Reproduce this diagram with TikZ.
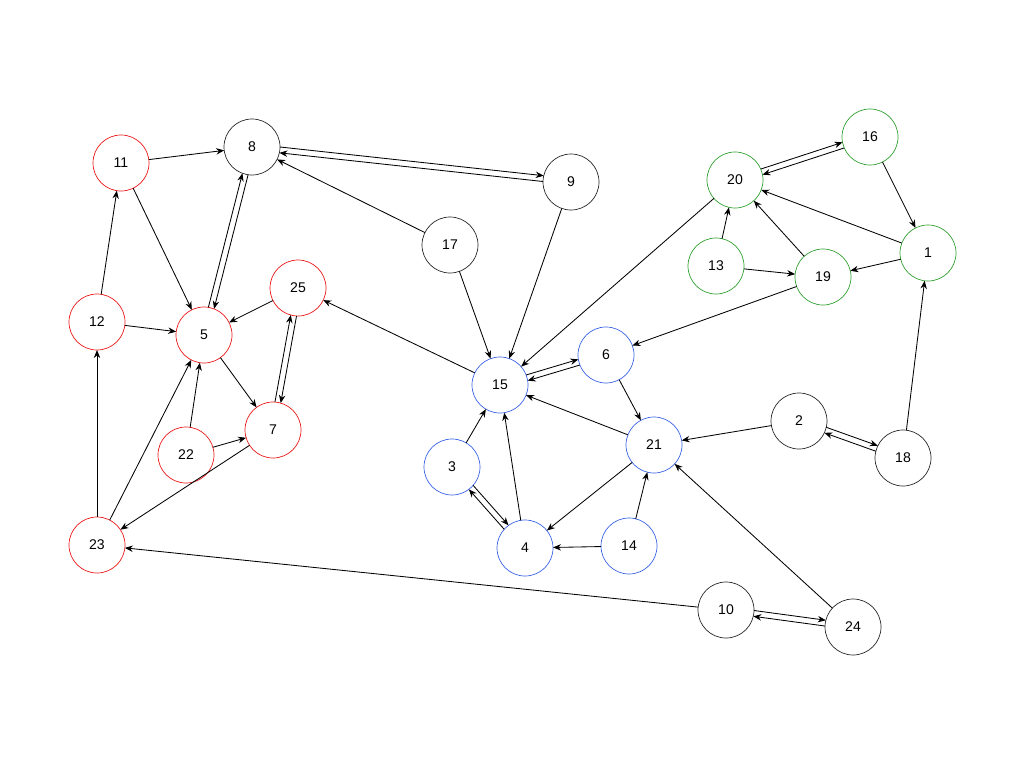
\documentclass[tikz,border=0pt]{standalone}
\usepackage{fontspec}
\setmainfont{Liberation Sans}
\usetikzlibrary{calc,arrows.meta}
\definecolor{nred}{RGB}{235,25,25}
\definecolor{nblue}{RGB}{60,100,230}
\definecolor{ngreen}{RGB}{50,160,50}
\definecolor{ngray}{RGB}{40,40,40}
\tikzset{
  vtx/.style={circle, draw, minimum size=14mm, inner sep=0pt, outer sep=0pt, line width=0.5pt, font=\fontsize{10}{12}\selectfont},
  rv/.style={vtx, draw=nred},
  bv/.style={vtx, draw=nblue},
  gv/.style={vtx, draw=ngreen},
  kv/.style={vtx, draw=ngray},
  arr/.style={-{Stealth[length=2mm,width=1.6mm]}, line width=0.6pt, black},
}
\newcommand\bidir[2]{%
  \draw[arr] let \p1=($(#2)-(#1)$), \n1={atan2(\y1,\x1)}, \n2={\n1+6}, \n3={\n1+174} in (#1.\n2) -- (#2.\n3);
  \draw[arr] let \p1=($(#2)-(#1)$), \n1={atan2(\y1,\x1)}, \n2={\n1+186}, \n3={\n1-6} in (#2.\n2) -- (#1.\n3);
}
\begin{document}
\begin{tikzpicture}[x=0.25mm,y=-0.25mm]
\useasboundingbox (0,0) rectangle (1024,768);
% red
\node[rv] (n11) at (121,163) {11};
\node[rv] (n12) at (97,322) {12};
\node[rv] (n5) at (204,335) {5};
\node[rv] (n25) at (298,288) {25};
\node[rv] (n7) at (273,430) {7};
\node[rv] (n22) at (186,455) {22};
\node[rv] (n23) at (97,545) {23};
% black
\node[kv] (n8) at (252,147) {8};
\node[kv] (n9) at (571,182) {9};
\node[kv] (n17) at (450,245) {17};
\node[kv] (n2) at (799,421) {2};
\node[kv] (n18) at (903,458) {18};
\node[kv] (n10) at (726,610) {10};
\node[kv] (n24) at (853,627) {24};
% blue
\node[bv] (n15) at (500,385) {15};
\node[bv] (n6) at (606,355) {6};
\node[bv] (n3) at (452,467) {3};
\node[bv] (n4) at (525,548) {4};
\node[bv] (n14) at (629,546) {14};
\node[bv] (n21) at (654,445) {21};
% green
\node[gv] (n20) at (735,180) {20};
\node[gv] (n16) at (870,137) {16};
\node[gv] (n13) at (716,266) {13};
\node[gv] (n19) at (823,277) {19};
\node[gv] (n1) at (928,253) {1};
% single edges
\draw[arr] (n11) -- (n8);
\draw[arr] (n11) -- (n5);
\draw[arr] (n12) -- (n11);
\draw[arr] (n12) -- (n5);
\draw[arr] (n17) -- (n8);
\draw[arr] (n17) -- (n15);
\draw[arr] (n9) -- (n15);
\draw[arr] (n20) -- (n15);
\draw[arr] (n15) -- (n25);
\draw[arr] (n25) -- (n5);
\draw[arr] (n5) -- (n7);
\draw[arr] (n22) -- (n5);
\draw[arr] (n22) -- (n7);
\draw[arr] (n7) -- (n23);
\draw[arr] (n23) -- (n12);
\draw[arr] (n23) -- (n5);
\draw[arr] (n10) -- (n23);
\draw[arr] (n19) -- (n6);
\draw[arr] (n6) -- (n21);
\draw[arr] (n21) -- (n15);
\draw[arr] (n3) -- (n15);
\draw[arr] (n4) -- (n15);
\draw[arr] (n21) -- (n4);
\draw[arr] (n14) -- (n4);
\draw[arr] (n14) -- (n21);
\draw[arr] (n2) -- (n21);
\draw[arr] (n24) -- (n21);
\draw[arr] (n18) -- (n1);
\draw[arr] (n16) -- (n1);
\draw[arr] (n1) -- (n20);
\draw[arr] (n1) -- (n19);
\draw[arr] (n19) -- (n20);
\draw[arr] (n13) -- (n20);
\draw[arr] (n13) -- (n19);
% two-way edges
\bidir{n8}{n9}
\bidir{n8}{n5}
\bidir{n25}{n7}
\bidir{n15}{n6}
\bidir{n3}{n4}
\bidir{n2}{n18}
\bidir{n10}{n24}
\bidir{n20}{n16}
\end{tikzpicture}
\end{document}
